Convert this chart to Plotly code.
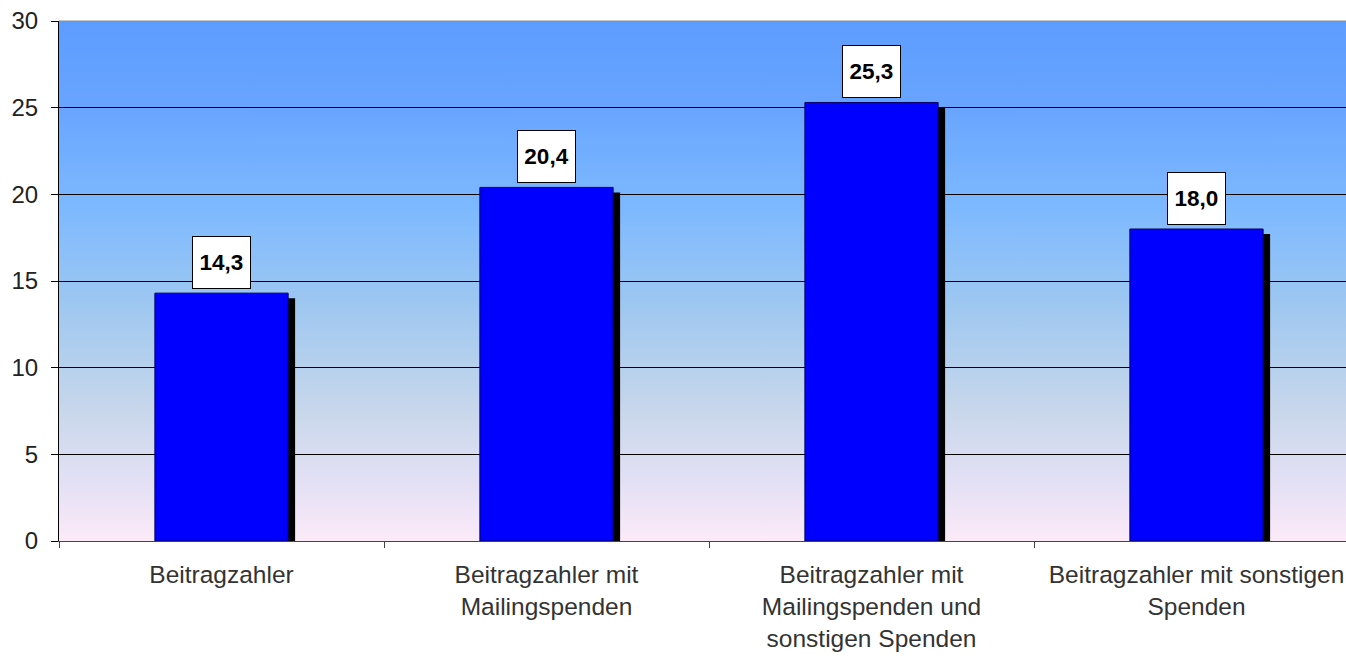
import base64
import plotly.graph_objects as go

categories = [
    "Beitragzahler",
    "Beitragzahler mit<br>Mailingspenden",
    "Beitragzahler mit<br>Mailingspenden und<br>sonstigen Spenden",
    "Beitragzahler mit sonstigen<br>Spenden",
]
values = [14.3, 20.4, 25.3, 18.0]
y_ticks = [0, 5, 10, 15, 20, 25, 30]

FONT = "Liberation Sans, Arial, sans-serif"
BAR_W = 0.41
SHADOW_DX = 0.0215
SHADOW_DY = 0.29

svg = """<svg xmlns='http://www.w3.org/2000/svg' width='100' height='100' preserveAspectRatio='none' viewBox='0 0 100 100'>
<defs><linearGradient id='g' x1='0' y1='0' x2='0' y2='1'>
<stop offset='0' stop-color='#5D9CFF'/>
<stop offset='0.17' stop-color='#69A5FF'/>
<stop offset='0.36' stop-color='#7DB9FF'/>
<stop offset='0.555' stop-color='#A0C8F0'/>
<stop offset='0.75' stop-color='#C8D7EB'/>
<stop offset='0.9' stop-color='#E6E1F5'/>
<stop offset='1' stop-color='#FCEAF8'/>
</linearGradient></defs>
<rect x='0' y='0' width='100' height='100' fill='url(#g)'/></svg>"""
src = "data:image/svg+xml;base64," + base64.b64encode(svg.encode()).decode()

fig = go.Figure()
# shadow
fig.add_trace(go.Bar(
    x=categories, y=values, base=-SHADOW_DY,
    width=BAR_W, offset=-BAR_W / 2 + SHADOW_DX,
    marker=dict(color="#000000", line=dict(width=0)),
    hoverinfo="skip", showlegend=False,
))
# main bars
fig.add_trace(go.Bar(
    x=categories, y=values,
    width=BAR_W, offset=-BAR_W / 2,
    marker=dict(color="#0000FF", line=dict(color="#000060", width=1)),
    showlegend=False,
))

for c, v in zip(categories, values):
    fig.add_annotation(
        x=c, y=v, xref="x", yref="y",
        text=f"<b>{v:.1f}</b>".replace(".", ","),
        showarrow=False, yanchor="bottom", yshift=4,
        font=dict(family=FONT, size=22.5, color="#000000"),
        bgcolor="#FFFFFF", bordercolor="#000000", borderwidth=1,
        borderpad=3, width=51, height=45,
    )

fig.add_shape(type="line", xref="paper", yref="paper", x0=0, x1=1, y0=1, y1=1,
              line=dict(color="#8C8C8C", width=1), layer="above")

fig.update_layout(
    width=1346, height=657,
    margin=dict(l=59, r=0, t=21, b=116),
    paper_bgcolor="#FFFFFF",
    plot_bgcolor="rgba(0,0,0,0)",
    barmode="overlay",
    font=dict(family=FONT, size=24, color="#222222"),
    images=[dict(source=src, xref="paper", yref="paper", x=0, y=1,
                 sizex=1, sizey=1, sizing="stretch", layer="below",
                 xanchor="left", yanchor="top")],
    xaxis=dict(
        type="category", range=[-0.5, 3.46],
        tickson="boundaries", ticks="outside", ticklen=6, tickcolor="#444444",
        showline=True, linecolor="#444444", linewidth=1,
        showgrid=False, tickfont=dict(size=24.5, color="#333333"),
        ticklabelstandoff=12,
        fixedrange=True,
    ),
    yaxis=dict(
        range=[0, 30], tickvals=y_ticks, ticks="outside", ticklen=7,
        tickcolor="#000000", showline=True, linecolor="#000000", linewidth=1,
        showgrid=True, gridcolor="#000000", gridwidth=1,
        zeroline=False, tickfont=dict(size=24, color="#222222"),
        ticklabelstandoff=8,
        fixedrange=True,
    ),
)

fig.write_html("out.html")
